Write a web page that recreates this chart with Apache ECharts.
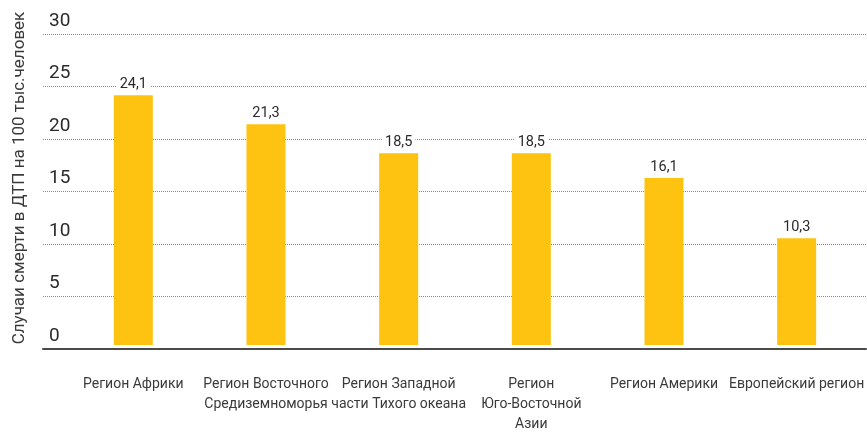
<!DOCTYPE html>
<html>
<head>
<meta charset="utf-8">
<script src="https://cdn.jsdelivr.net/npm/echarts@6/dist/echarts.min.js"></script>
<style>
html,body{margin:0;padding:0;background:#fff;}
#chart{width:867px;height:434px;}
</style>
</head>
<body>
<div id="chart"></div>
<script>
const categories = [
  "Регион Африки",
  "Регион Восточного\nСредиземноморья",
  "Регион Западной\nчасти Тихого океана",
  "Регион\nЮго-Восточной\nАзии",
  "Регион Америки",
  "Европейский регион"
];
const values = [24.1, 21.3, 18.5, 18.5, 16.1, 10.3];
const yTicks = [0, 5, 10, 15, 20, 25, 30];
const yTitle = "Случаи смерти в ДТП на 100 тыс.человек";

const font = "Roboto, sans-serif";
const chart = echarts.init(document.getElementById('chart'), null, {renderer: 'canvas'});
chart.setOption({
  backgroundColor: '#ffffff',
  animation: false,
  graphic: [{
    type: 'text', x: 20, y: 178, rotation: Math.PI / 2,
    style: {text: yTitle, fill: '#3a3a3a', font: '17px Roboto, sans-serif', align: 'center', verticalAlign: 'middle'}
  }],
  grid: [
    {left: 43, right: 1, top: 34, bottom: 85},
    {left: 67, right: 1, top: 34, bottom: 85}
  ],
  xAxis: [
    {gridIndex: 0, type: 'value', min: 0, max: 1, show: true,
     axisLine: {show: true, onZero: false, lineStyle: {color: '#4a4a4a', width: 2}},
     axisTick: {show: false}, axisLabel: {show: false}, splitLine: {show: false}},
    {gridIndex: 1, type: 'category', data: categories,
     axisLine: {show: false}, axisTick: {show: false},
     axisLabel: {interval: 0, margin: 29, color: '#3a3a3a', fontFamily: font, fontSize: 14, lineHeight: 20}}
  ],
  yAxis: [
    {gridIndex: 0, type: 'value', min: yTicks[0], max: yTicks[yTicks.length - 1], interval: 5,
     axisLine: {show: false}, axisTick: {show: false},
     axisLabel: {inside: true, margin: 6, color: '#2a2a2a', fontFamily: font, fontSize: 19,
       verticalAlign: 'bottom', lineHeight: 22, padding: [0, 0, 2, 0], align: 'left'},
     splitLine: {show: true, lineStyle: {color: '#8a8a8a', type: 'dotted', width: 1}}},
    {gridIndex: 1, type: 'value', min: 0, max: 30, interval: 5, show: false,
     splitLine: {show: false}}
  ],
  series: [{
    type: 'bar', xAxisIndex: 1, yAxisIndex: 1, data: values, barWidth: 39,
    itemStyle: {color: '#FEC210'},
    label: {show: true, position: 'top', distance: 3,
      formatter: p => String(p.value).replace('.', ','),
      color: '#2a2a2a', fontFamily: font, fontSize: 14.5,
      backgroundColor: '#ffffff', padding: [0, 3]}
  }]
});
</script>
</body>
</html>
